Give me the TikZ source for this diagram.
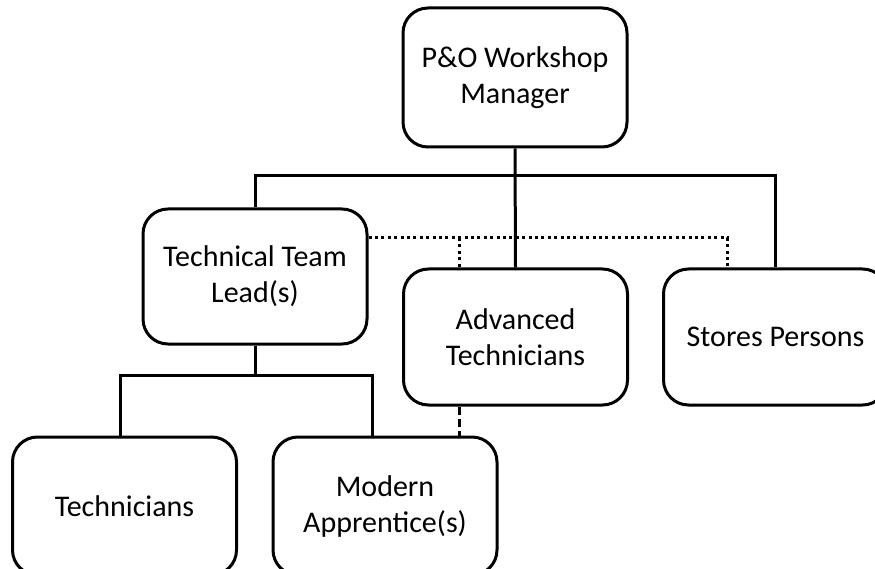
\documentclass[tikz,border=0pt]{standalone}
\usepackage{fontspec}
\setmainfont{Carlito}
\begin{document}
\begin{tikzpicture}[x=1pt, y=-1pt, line width=3pt]
			\tikzstyle{post}    = [rectangle, rounded corners=25pt, draw=black, fill=white, align=center, inner sep=0pt, minimum width=224pt, font=\fontsize{30}{36}\selectfont]
			\tikzstyle{dotline} = [dash pattern=on 3pt off 3.4pt]
			\tikzstyle{dashline}= [dash pattern=on 8pt off 4pt]

			\useasboundingbox (0,0) rectangle (875,569);

			\node[post, minimum height=139pt] (mgr) at (515, 77.5) {P\&O Workshop\\Manager};
			\node[post, minimum height=135pt] (ttl) at (255, 276.5) {Technical Team\\Lead(s)};
			\node[post, minimum height=136pt] (adv) at (515.5, 337) {Advanced\\Technicians};
			\node[post, minimum height=136pt] (stores) at (775.5, 337) {Stores Persons};
			\node[post, minimum height=138pt] (tech) at (124.5, 506) {Technicians};
			\node[post, minimum height=138pt] (appr) at (385, 506) {Modern\\Apprentice(s)};

			\coordinate (bus) at (515, 176);
			\coordinate (k1) at (120, 375);
			\coordinate (k2) at (372, 375);
			\coordinate (dotL) at (459, 238);
			\coordinate (dotR) at (727, 238);

			% solid lines
			\draw (mgr.south) -- (adv.north);
			\draw (ttl.north) |- (bus) -| (stores.north);
			\draw (ttl.south) -- (ttl.south |- k1);
			\draw (k1 |- tech.north) -- (k1) -- (k2) -- (k2 |- appr.north);

			% dotted and dashed links
			\draw[dotline] (ttl.east |- dotR) -- (dotR) -- (dotR |- stores.north);
			\draw[dotline] (dotL) -- (dotL |- adv.north);
			\draw[dashline] (dotL |- adv.south) -- (dotL |- appr.north);

		\end{tikzpicture}
\end{document}
